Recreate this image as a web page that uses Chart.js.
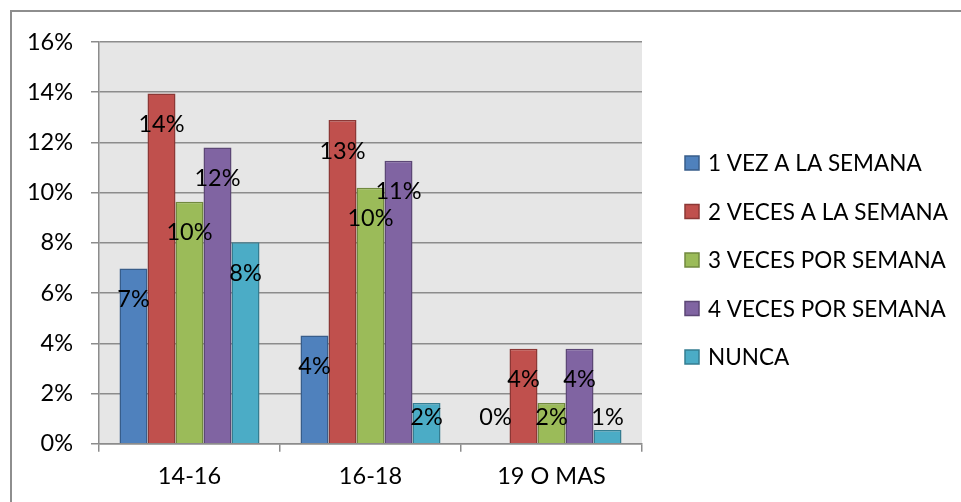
<!DOCTYPE html>
<html>
<head>
<meta charset="utf-8">
<script src="https://cdn.jsdelivr.net/npm/chart.js@4"></script>
<style>
  html, body { margin: 0; padding: 0; background: #fff; overflow: hidden; }
  #frame { position: absolute; left: 10px; top: 10px; width: 1000px; height: 600px; border: 2px solid #8e8e8e; }
  #wrap { position: absolute; left: 0; top: 0; width: 961px; height: 502px; }
</style>
</head>
<body>
<div id="frame"></div>
<div id="wrap"><canvas id="chart"></canvas></div>
<script>
// ── Data (percent) ─────────────────────────────────────────
const CATEGORIES = ["14-16", "16-18", "19 O MAS"];
const SERIES_NAMES = ["1 VEZ A LA SEMANA", "2 VECES A LA SEMANA", "3 VECES POR SEMANA", "4 VECES POR SEMANA", "NUNCA"];
const VEZ_1 = [6.98, 4.31, 0];
const VECES_2 = [13.95, 12.89, 3.78];
const VECES_3 = [9.64, 10.2, 1.62];
const VECES_4 = [11.8, 11.27, 3.78];
const NUNCA = [8.03, 1.62, 0.55];
const Y_TICKS = [0, 2, 4, 6, 8, 10, 12, 14, 16];

const FILLS = ["#4f81bd", "#c0504d", "#9bbb59", "#8064a2", "#4bacc6"];
const EDGES = ["#385d8a", "#8c3836", "#71893f", "#5c4776", "#357d91"];
const FONT = "Lato, 'Open Sans', sans-serif";
const GRID = "#8c8c8c";

/* ── Plot area background ───────────────────────────────────*/
const plotBg = {
  id: "plotBg",
  beforeDraw(chart) {
    const { ctx, chartArea: a } = chart;
    ctx.save();
    ctx.fillStyle = "#e6e6e6";
    ctx.fillRect(a.left, a.top, a.right - a.left, a.bottom - a.top);
    ctx.restore();
  }
};

/* ── Data labels, Excel "inside end" style ──────────────────*/
const barLabels = {
  id: "barLabels",
  afterDatasetsDraw(chart) {
    const { ctx } = chart;
    ctx.save();
    ctx.font = "23.5px " + FONT;
    ctx.fillStyle = "#000";
    ctx.textAlign = "center";
    ctx.textBaseline = "middle";
    chart.data.datasets.forEach((ds, i) => {
      chart.getDatasetMeta(i).data.forEach((bar, j) => {
        // below the bar top, but never lower than just above the axis
        const y = Math.min(bar.y + 31, bar.base - 26);
        ctx.fillText(Math.round(ds.data[j]) + "%", bar.x, y);
      });
    });
    ctx.restore();
  }
};

/* ── Legend on the right (Excel layout) ─────────────────────*/
const sideLegend = {
  id: "sideLegend",
  afterDraw(chart) {
    const { ctx, chartArea: a } = chart;
    const x = a.right + 43;
    const rowH = 48.5;
    const y0 = 260 - 2 * rowH;
    ctx.save();
    ctx.font = "22.5px " + FONT;
    ctx.textBaseline = "middle";
    ctx.textAlign = "left";
    chart.data.datasets.forEach((ds, i) => {
      const y = y0 + i * rowH;
      ctx.fillStyle = ds.backgroundColor;
      ctx.fillRect(x, y - 7, 14, 14);
      ctx.strokeStyle = ds.borderColor;
      ctx.lineWidth = 1.5;
      ctx.strokeRect(x, y - 7, 14, 14);
      ctx.fillStyle = "#000";
      ctx.fillText(ds.label, x + 23, y + 1);
    });
    ctx.restore();
  }
};

const dataSets = [VEZ_1, VECES_2, VECES_3, VECES_4, NUNCA].map((d, i) => ({
  label: SERIES_NAMES[i],
  data: d,
  backgroundColor: FILLS[i],
  borderColor: EDGES[i],
  borderWidth: 1.5,
  borderSkipped: "bottom",
  categoryPercentage: 0.7735,
  barPercentage: 1
}));

new Chart(document.getElementById("chart"), {
  type: "bar",
  data: { labels: CATEGORIES, datasets: dataSets },
  options: {
    responsive: true, maintainAspectRatio: false, animation: false,
    layout: { padding: { top: 42, left: 10, right: 319, bottom: 0 } },
    scales: {
      x: {
        grid: { display: true, drawOnChartArea: false, drawTicks: true, tickLength: 8, color: GRID, lineWidth: 1.5 },
        border: { display: true, color: GRID, width: 1.5 },
        ticks: { color: "#000", font: { size: 23.5, family: FONT }, padding: 11 }
      },
      y: {
        min: 0, max: 16,
        afterBuildTicks: s => { s.ticks = Y_TICKS.map(v => ({ value: v })); },
        afterFit: s => { s.width = 89; },
        grid: { color: GRID, lineWidth: 1.5, tickLength: 8 },
        border: { display: true, color: GRID, width: 1.5 },
        ticks: { color: "#000", font: { size: 23.5, family: FONT }, padding: 18, callback: v => v + "%" }
      }
    },
    plugins: {
      legend: { display: false },
      tooltip: { enabled: false }
    }
  },
  plugins: [plotBg, barLabels, sideLegend]
});
</script>
</body>
</html>
